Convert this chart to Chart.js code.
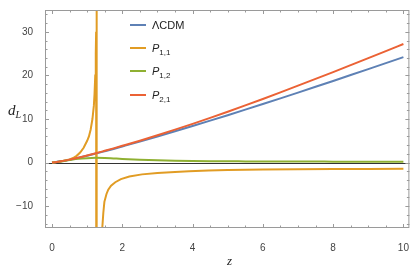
<!DOCTYPE html>
<html><head><meta charset="utf-8">
<script src="https://cdn.jsdelivr.net/npm/chart.js@4/dist/chart.umd.min.js"></script>
<style>
html,body{margin:0;padding:0;background:#fff;}
#wrap{position:relative;width:415px;height:270px;}
canvas{position:absolute;left:0;top:0;}
.lg{position:absolute;font-family:"Liberation Sans",Arial,sans-serif;font-size:11px;color:#222;line-height:12px;white-space:nowrap;}
.lg sub{font-size:8px;vertical-align:-3px;line-height:0;}
.sw{position:absolute;height:2px;width:16px;}
.ax{position:absolute;font-family:"Liberation Serif","DejaVu Serif",serif;font-style:italic;color:#222;white-space:nowrap;}
.ax sub{font-size:10px;vertical-align:-3px;line-height:0;}
</style></head><body>
<div id="wrap">
<canvas id="c" width="415" height="270"></canvas>
<div class="sw" style="left:130px;top:24px;background:#5E81B5"></div>
<div class="lg" style="left:152px;top:19px">ΛCDM</div>
<div class="sw" style="left:130px;top:47px;background:#E19C24"></div>
<div class="lg" style="left:152px;top:42px"><i>P</i><sub>1,1</sub></div>
<div class="sw" style="left:130px;top:70px;background:#8FB032"></div>
<div class="lg" style="left:152px;top:65px"><i>P</i><sub>1,2</sub></div>
<div class="sw" style="left:130px;top:94px;background:#EB6235"></div>
<div class="lg" style="left:152px;top:89px"><i>P</i><sub>2,1</sub></div>
<div class="ax" style="left:8px;top:102px;font-size:15px">d<sub>L</sub></div>
<div class="ax" style="left:227px;top:253px;font-size:13px">z</div>
</div>
<script>
// ---- data ----
const zGrid = [0,0.25,0.5,0.75,1,1.25,1.5,1.75,2,2.5,3,3.5,4,4.5,5,5.5,6,6.5,7,7.5,8,8.5,9,9.5,10];
const lcdm  = [0,0.29,0.67,1.1,1.57,2.07,2.6,3.14,3.7,4.83,5.99,7.18,8.39,9.62,10.87,12.14,13.43,14.74,16.06,17.39,18.73,20.08,21.44,22.81,24.19];
const p21   = [0,0.29,0.68,1.13,1.62,2.14,2.7,3.27,3.85,5.03,6.27,7.56,8.89,10.26,11.67,13.12,14.6,16.11,17.64,19.19,20.76,22.35,23.95,25.57,27.2];
const p12   = [0,0.27,0.58,0.86,1.02,1.1,1.05,0.95,0.85,0.68,0.55,0.45,0.38,0.33,0.3,0.28,0.26,0.25,0.24,0.23,0.22,0.21,0.21,0.2,0.2];
const p11z  = [0,0.1,0.2,0.3,0.4,0.5,0.6,0.7,0.8,0.9,1.0,1.05,1.1,1.15,1.19,1.21,1.23,1.245,1.255,1.262,1.27,1.274,
               1.276,1.3,1.35,1.4,1.43,1.46,1.49,1.55,1.6,1.68,1.8,1.96,2.2,2.56,3,3.5,3.9,4.45,5,6,7,8,9,10];
const p11   = [0,0.1,0.22,0.36,0.52,0.74,1.05,1.55,2.3,3.4,5.0,6.0,7.6,10,13,15.8,20,25,30,35,50,200,
               -200,-60,-30,-19,-15,-11.5,-9,-7.2,-6.2,-5.3,-4.5,-3.8,-3.2,-2.7,-2.4,-2.15,-2.0,-1.8,-1.7,-1.6,-1.53,-1.48,-1.44,-1.4];
const xTicks = [0,2,4,6,8,10];
const yTicks = [-10,0,10,20,30];
const seriesNames = ["ΛCDM","P_{1,1}","P_{1,2}","P_{2,1}"];

const pts = (xs, ys) => xs.map((x,i)=>({x:x,y:ys[i]}));

const framePlugin = {
  id:'frame',
  beforeDatasetsDraw(chart){
    const {ctx, chartArea:a, scales:{x,y}} = chart;
    ctx.save();
    ctx.strokeStyle = '#333';
    ctx.lineWidth = 1;
    const y0 = Math.round(y.getPixelForValue(0)) + 0.5;
    ctx.beginPath(); ctx.moveTo(a.left, y0); ctx.lineTo(a.right, y0); ctx.stroke();
    ctx.restore();
  },
  afterDraw(chart){
    const {ctx, chartArea:a, scales:{x,y}} = chart;
    ctx.save();
    ctx.strokeStyle = '#9a9a9a';
    ctx.lineWidth = 1;
    ctx.strokeRect(a.left+0.5, a.top+0.5, a.right-a.left-1, a.bottom-a.top-1);
    ctx.beginPath();
    for (let v = 0; v <= 10.0001; v += 0.5) {
      const major = xTicks.some(t => Math.abs(t - v) < 1e-6);
      const len = major ? 4 : 2.5;
      const px = Math.round(x.getPixelForValue(v)) + 0.5;
      ctx.moveTo(px, a.bottom); ctx.lineTo(px, a.bottom - len);
      ctx.moveTo(px, a.top); ctx.lineTo(px, a.top + len);
    }
    for (let v = -14; v <= 34.0001; v += 2) {
      const major = yTicks.some(t => Math.abs(t - v) < 1e-6);
      const len = major ? 4 : 2.5;
      const py = Math.round(y.getPixelForValue(v)) + 0.5;
      ctx.moveTo(a.left, py); ctx.lineTo(a.left + len, py);
      ctx.moveTo(a.right, py); ctx.lineTo(a.right - len, py);
    }
    ctx.stroke();
    ctx.restore();
  }
};

const base = {showLine:true, pointRadius:0, borderWidth:2, fill:false};
new Chart(document.getElementById('c'), {
  type:'scatter',
  data:{datasets:[
    Object.assign({label:seriesNames[0], data:pts(zGrid,lcdm), borderColor:'#5E81B5', cubicInterpolationMode:'monotone', order:4}, base),
    Object.assign({label:seriesNames[1], data:pts(p11z,p11), borderColor:'#E19C24', tension:0, order:3}, base),
    Object.assign({label:seriesNames[2], data:pts(zGrid,p12), borderColor:'#8FB032', cubicInterpolationMode:'monotone', order:2}, base),
    Object.assign({label:seriesNames[3], data:pts(zGrid,p21), borderColor:'#EB6235', cubicInterpolationMode:'monotone', order:1}, base)
  ]},
  options:{
    responsive:false, animation:false, devicePixelRatio:1,
    layout:{padding:{top:1,right:2,left:0,bottom:0}},
    plugins:{legend:{display:false}, tooltip:{enabled:false}},
    scales:{
      x:{type:'linear', min:-0.2, max:10.17,
         grid:{display:false}, border:{display:false},
         afterBuildTicks(s){ s.ticks = xTicks.map(v=>({value:v})); },
         afterFit(s){ s.height = 42; },
         ticks:{padding:6, color:'#444', font:{family:'"Liberation Sans", Arial, sans-serif', size:10},
                maxRotation:0, callback:v=>String(v).replace('-','\u2212')}},
      y:{type:'linear', min:-15, max:35,
         grid:{display:false}, border:{display:false},
         afterBuildTicks(s){ s.ticks = yTicks.map(v=>({value:v})); },
         afterFit(s){ s.width = 45; },
         ticks:{padding:4, color:'#444', font:{family:'"Liberation Sans", Arial, sans-serif', size:10},
                callback:v=>String(v).replace('-','\u2212')}}
    }
  },
  plugins:[framePlugin]
});
</script>
</body></html>
